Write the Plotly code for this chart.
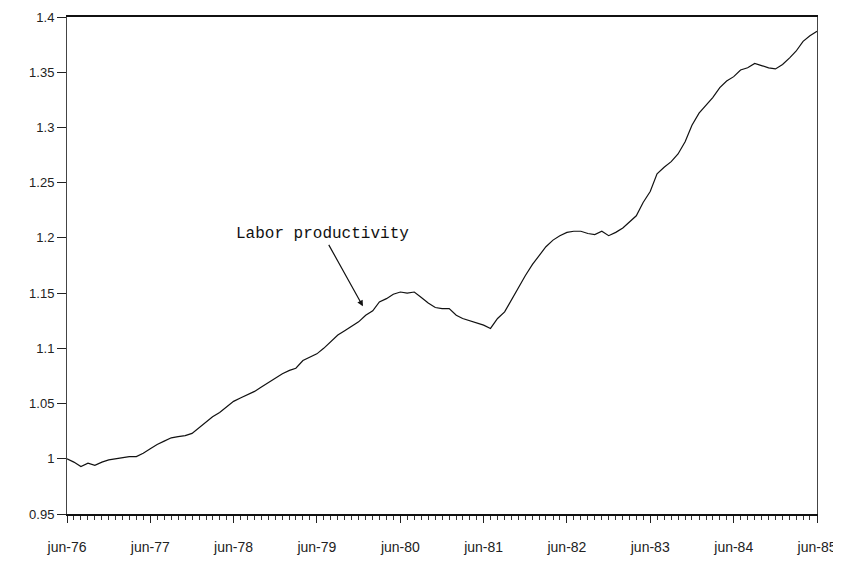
import pandas as pd
import plotly.graph_objects as go

# Monthly labor productivity index, jun-76 .. jun-85
start_month = "1976-06-01"
productivity = [
    1.000, 0.997, 0.993, 0.996, 0.994, 0.997, 0.999, 1.000, 1.001, 1.002,
    1.002, 1.005, 1.009, 1.013, 1.016, 1.019, 1.020, 1.021, 1.023, 1.028,
    1.033, 1.038, 1.042, 1.047, 1.052, 1.055, 1.058, 1.061, 1.065, 1.069,
    1.073, 1.077, 1.080, 1.082, 1.089, 1.092, 1.095, 1.100, 1.106, 1.112,
    1.116, 1.120, 1.124, 1.130, 1.134, 1.142, 1.145, 1.149, 1.151, 1.150,
    1.151, 1.146, 1.141, 1.137, 1.136, 1.136, 1.130, 1.127, 1.125, 1.123,
    1.121, 1.118, 1.127, 1.133, 1.144, 1.156, 1.166, 1.176, 1.185, 1.192,
    1.198, 1.202, 1.205, 1.206, 1.206, 1.204, 1.203, 1.206, 1.202, 1.205,
    1.209, 1.214, 1.220, 1.232, 1.242, 1.258, 1.264, 1.269, 1.276, 1.287,
    1.302, 1.313, 1.320, 1.327, 1.336, 1.342, 1.346, 1.352, 1.354, 1.358,
    1.356, 1.354, 1.353, 1.357, 1.363, 1.369, 1.378, 1.383, 1.387,
]
months = pd.date_range(start_month, periods=len(productivity), freq="MS")

x_tick_dates = [f"{y}-06-01" for y in range(1976, 1986)]
x_tick_labels = ["jun-76", "jun-77", "jun-78", "jun-79", "jun-80",
                 "jun-81", "jun-82", "jun-83", "jun-84", "jun-85"]
y_tick_vals = [0.95, 1.0, 1.05, 1.1, 1.15, 1.2, 1.25, 1.3, 1.35, 1.4]
y_tick_labels = ["0.95", "1", "1.05", "1.1", "1.15", "1.2", "1.25", "1.3", "1.35", "1.4"]

annotation_text = "Labor productivity"
annotation_point = ("1979-12-20", 1.138)

fig = go.Figure()
fig.add_trace(go.Scatter(
    x=months, y=productivity, mode="lines",
    line=dict(color="#111111", width=1.2),
    showlegend=False, hoverinfo="x+y",
))

fig.add_annotation(
    x=annotation_point[0], y=annotation_point[1],
    text=annotation_text,
    showarrow=True, arrowhead=2, arrowsize=1, arrowwidth=1.2,
    arrowcolor="#111111",
    ax=-40, ay=-72,
    font=dict(family="Liberation Mono, Courier New, monospace", size=16, color="#111111"),
)

# The page body adds an 8px offset, so the figure is sized to fill the window.
fig.update_layout(
    width=833, height=555,
    margin=dict(l=59, r=24, t=9, b=49, autoexpand=False),
    paper_bgcolor="white", plot_bgcolor="white",
    font=dict(family="Liberation Sans, Arial, sans-serif", size=13, color="#222222"),
    xaxis=dict(
        type="date",
        automargin=False,
        range=[months[0], months[-1]],
        tickvals=x_tick_dates, ticktext=x_tick_labels,
        ticks="outside", ticklen=7, tickwidth=1.2, tickcolor="#222222",
        ticklabelstandoff=12,
        minor=dict(ticks="outside", dtick="M1", ticklen=4, tickwidth=1, tickcolor="#333333"),
        showline=True, linecolor="#111111", linewidth=2, mirror=True,
        showgrid=False, zeroline=False,
        tickfont=dict(size=14, color="#222222"),
    ),
    yaxis=dict(
        automargin=False,
        range=[0.95, 1.4],
        tickvals=y_tick_vals, ticktext=y_tick_labels,
        ticks="outside", ticklen=9, tickwidth=1.2, tickcolor="#222222",
        showline=True, linecolor="#444444", linewidth=1, mirror=True,
        showgrid=False, zeroline=False,
        tickfont=dict(size=13, color="#222222"),
    ),
)

fig.write_html("out.html")
